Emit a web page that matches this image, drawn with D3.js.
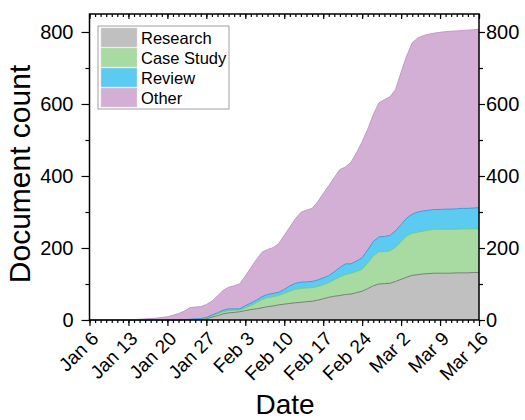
<!DOCTYPE html>
<html>
<head>
<meta charset="utf-8">
<script src="https://cdn.jsdelivr.net/npm/d3@7/dist/d3.min.js"></script>
<style>
  body { margin: 0; background: #fff; }
  svg { font-family: "Liberation Sans", Arial, sans-serif; }
  .axis path.domain { display: none; }
  .axis line { stroke: #000; stroke-width: 1.2; }
</style>
</head>
<body>
<div id="vis1"></div>
<script>
// daily counts, Jan 6 .. Mar 16 (71 days)
var research = [0,0,0,0,0,0,0,0,0,0, 0,0,0,0,0,0,0,1,1,1,
  2,3,8,12,17,20,21,23,26,29, 31,34,37,39,42,44,46,48,49,51,
  52,55,59,63,66,68,71,72,76,80, 87,95,100,101,102,107,113,119,124,126,
  128,129,130,130,130,130,131,131,131,132, 132];
var caseStudy = [0,0,0,0,0,0,0,0,0,0, 0,0,0,0,0,0,0,0,0,1,
  1,2,4,6,6,6,6,5,8,11, 17,23,25,26,26,30,34,37,39,38,
  38,38,39,41,46,52,55,58,59,61, 71,83,89,89,90,95,105,114,117,118,
  119,121,122,122,122,122,121,122,122,121, 121];
var review = [0,0,0,0,0,0,0,0,0,0, 0,0,0,0,0,0,0,0,1,1,
  1,2,2,2,4,5,4,3,6,7, 7,8,9,9,9,11,15,17,17,17,
  17,18,19,19,22,26,30,26,29,32, 37,40,42,42,43,46,47,50,53,56,
  56,55,55,55,56,56,57,57,57,58, 59];
var other = [0,0,0,0,0,0,0,0,1,2, 3,4,5,7,9,13,18,23,32,33,
  33,36,38,47,55,60,64,69,82,98, 113,123,125,127,135,150,163,179,194,199,
  203,217,234,250,262,272,269,282,301,322, 335,352,372,380,385,392,423,450,476,483,
  487,489,490,492,493,494,494,494,495,495, 496];

var keys = ["Research", "Case Study", "Review", "Other"];
var fills = ["#c0c0c0", "#a8dba2", "#5ccbf2", "#d3afd5"];
var edges = ["#7a7a7a", "#7cc775", "#2f9fe0", "#c497cb"];

var tickLabels = ["Jan 6", "Jan 13", "Jan 20", "Jan 27", "Feb 3", "Feb 10",
  "Feb 17", "Feb 24", "Mar 2", "Mar 9", "Mar 16"];
var yMajor = [0, 200, 400, 600, 800];
var yMinor = [100, 300, 500, 700];

var dates = d3.timeDay.range(new Date(2020, 0, 6), new Date(2020, 2, 17));
var weeks = d3.timeMonday.range(new Date(2020, 0, 6), new Date(2020, 2, 17));

var table = dates.map(function(d, i) {
  return { date: d, "Research": research[i], "Case Study": caseStudy[i],
           "Review": review[i], "Other": other[i] };
});

var width = 525, height = 420;
var plotLeft = 89.5, plotRight = 479, plotTop = 14, plotBottom = 320;

var svg = d3.select("#vis1").append("svg")
  .attr("width", width)
  .attr("height", height);

var xScale = d3.scaleTime()
  .domain([dates[0], dates[dates.length - 1]])
  .range([plotLeft, plotRight]);

var yScale = d3.scaleLinear()
  .domain([0, 850])
  .range([plotBottom, plotTop]);

var series = d3.stack().keys(keys)(table);

var area = d3.area()
  .x(function(d) { return xScale(d.data.date); })
  .y0(function(d) { return yScale(d[0]); })
  .y1(function(d) { return yScale(d[1]); });

var edge = d3.line()
  .x(function(d) { return xScale(d.data.date); })
  .y(function(d) { return yScale(d[1]); });

svg.selectAll(".layer")
  .data(series)
  .enter().append("path")
  .attr("class", "layer")
  .attr("fill", function(d, i) { return fills[i]; })
  .attr("d", area);

svg.selectAll(".edge")
  .data(series)
  .enter().append("path")
  .attr("class", "edge")
  .attr("fill", "none")
  .attr("stroke", function(d, i) { return edges[i]; })
  .attr("stroke-width", 1)
  .attr("d", edge);

// bottom axis
var xAxis = svg.append("g")
  .attr("class", "axis")
  .attr("transform", "translate(0," + plotBottom + ")")
  .call(d3.axisBottom(xScale).tickValues(weeks).tickSize(6)
    .tickFormat(function(d, i) { return tickLabels[i]; }));

xAxis.selectAll("text")
  .attr("x", 0).attr("y", 0).attr("dy", "0.35em")
  .attr("transform", "translate(5,15) rotate(-45)")
  .style("text-anchor", "end")
  .style("font-size", "19px")
  .attr("fill", "#000");

svg.append("g")
  .attr("class", "axis")
  .attr("transform", "translate(0," + plotBottom + ")")
  .call(d3.axisBottom(xScale).ticks(d3.timeDay).tickSize(3).tickFormat(""));

// top axis (ticks inside)
svg.append("g")
  .attr("class", "axis")
  .attr("transform", "translate(0," + plotTop + ")")
  .call(d3.axisBottom(xScale).tickValues(weeks).tickSize(5).tickFormat(""));

svg.append("g")
  .attr("class", "axis")
  .attr("transform", "translate(0," + plotTop + ")")
  .call(d3.axisBottom(xScale).ticks(d3.timeDay).tickSize(3).tickFormat(""));

// left axis
var yAxisL = svg.append("g")
  .attr("class", "axis")
  .attr("transform", "translate(" + plotLeft + ",0)")
  .call(d3.axisLeft(yScale).tickValues(yMajor).tickSize(8).tickPadding(8));
yAxisL.selectAll("text").style("font-size", "20px").attr("fill", "#000");

svg.append("g")
  .attr("class", "axis")
  .attr("transform", "translate(" + plotLeft + ",0)")
  .call(d3.axisLeft(yScale).tickValues(yMinor).tickSize(4).tickFormat(""));

// right axis
var yAxisR = svg.append("g")
  .attr("class", "axis")
  .attr("transform", "translate(" + plotRight + ",0)")
  .call(d3.axisRight(yScale).tickValues(yMajor).tickSize(6).tickPadding(1));
yAxisR.selectAll("text").style("font-size", "20px").attr("fill", "#000");

svg.append("g")
  .attr("class", "axis")
  .attr("transform", "translate(" + plotRight + ",0)")
  .call(d3.axisRight(yScale).tickValues(yMinor).tickSize(4).tickFormat(""));

// frame
svg.append("rect")
  .attr("x", plotLeft).attr("y", plotTop)
  .attr("width", plotRight - plotLeft).attr("height", plotBottom - plotTop)
  .attr("fill", "none")
  .attr("stroke", "#000")
  .attr("stroke-width", 1.5);

// legend
var legend = svg.append("g").attr("transform", "translate(98,26)");
legend.append("rect")
  .attr("width", 131).attr("height", 83)
  .attr("fill", "#fff")
  .attr("stroke", "#a0a0a0")
  .attr("stroke-width", 1);

var items = legend.selectAll(".item")
  .data(keys)
  .enter().append("g")
  .attr("transform", function(d, i) { return "translate(3," + (2 + i * 20) + ")"; });

items.append("rect")
  .attr("width", 36).attr("height", 19)
  .attr("fill", function(d, i) { return fills[i]; })
  .attr("stroke", "#d8d8d8")
  .attr("stroke-width", 0.5);

items.append("text")
  .attr("x", 40).attr("y", 10)
  .attr("dy", "0.35em")
  .style("font-size", "16.5px")
  .text(function(d) { return d; });

// axis titles
svg.append("text")
  .attr("transform", "translate(30,174) rotate(-90)")
  .style("text-anchor", "middle")
  .style("font-size", "30px")
  .text("Document count");

svg.append("text")
  .attr("x", 285).attr("y", 414)
  .style("text-anchor", "middle")
  .style("font-size", "28px")
  .text("Date");
</script>
</body>
</html>
